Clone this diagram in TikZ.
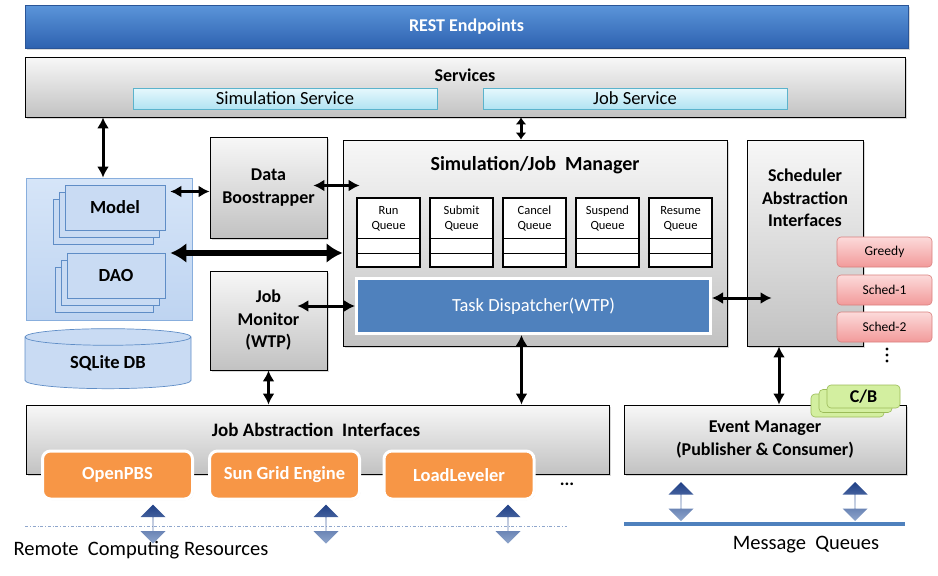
\documentclass[tikz,border=0pt]{standalone}
\usepackage{fontspec}
\setmainfont{Carlito}
\usetikzlibrary{shapes.geometric,shapes.arrows,shadows,arrows.meta,calc}
\definecolor{RestTop}{HTML}{5B95DA}
\definecolor{RestBot}{HTML}{2E62B0}
\definecolor{RestLine}{HTML}{2A5597}
\definecolor{SvcTop}{HTML}{E6F8FD}
\definecolor{SvcBot}{HTML}{B2E3F2}
\definecolor{SvcLine}{HTML}{5BB3CC}
\definecolor{StoreTop}{HTML}{D6E5F8}
\definecolor{StoreBot}{HTML}{BED4F1}
\definecolor{StoreLine}{HTML}{88AEDD}
\definecolor{StackFill}{HTML}{C9DBF3}
\definecolor{StackLine}{HTML}{5F8DC6}
\definecolor{TaskBlue}{HTML}{4F81BD}
\definecolor{PbsOrange}{HTML}{F79646}
\definecolor{SchedTop}{HTML}{FCDADA}
\definecolor{SchedBot}{HTML}{F29A9A}
\definecolor{SchedLine}{HTML}{D9807E}
\definecolor{CbFill}{HTML}{D3EFA0}
\definecolor{CbLine}{HTML}{9BBB59}
\definecolor{FlowDark}{HTML}{1F3F86}
\definecolor{FlowLight}{HTML}{8FA6CC}

\begin{document}
\begin{tikzpicture}[x=1pt,y=-1pt,
  every node/.style={font=\fontsize{18.5}{22}\selectfont},
  title/.style={font=\bfseries\fontsize{18}{22.5}\selectfont, align=center, inner sep=0pt},
  panel/.style={draw=black, line width=0.8pt, top color=gray!6, bottom color=gray!48,
                drop shadow={shadow xshift=1.5pt, shadow yshift=-1.5pt, opacity=0.3}},
  restbar/.style={draw=RestLine, line width=0.6pt, top color=RestTop, bottom color=RestBot,
                  minimum width=883, minimum height=43, text=white,
                  font=\bfseries\fontsize{18}{21}\selectfont,
                  drop shadow={shadow xshift=1.5pt, shadow yshift=-1.5pt, opacity=0.3}},
  svcbar/.style={draw=SvcLine, line width=0.5pt, top color=SvcTop, bottom color=SvcBot,
                 minimum width=304, minimum height=21, inner sep=0pt,
                 font=\fontsize{18.5}{20}\selectfont},
  store/.style={draw=StoreLine, line width=0.8pt, top color=StoreTop, bottom color=StoreBot},
  stackbox/.style={draw=StackLine, line width=0.6pt, fill=StackFill,
                   font=\bfseries\fontsize{18.5}{22}\selectfont,
                   double copy shadow={shadow xshift=-6pt, shadow yshift=-7pt}},
  dbcyl/.style={cylinder, shape border rotate=90, aspect=0.22, draw=StackLine, line width=0.7pt,
                fill=StackFill, minimum width=166, minimum height=60, inner sep=0pt,
                font=\bfseries\fontsize{18.5}{22}\selectfont},
  queuebox/.style={draw=black, line width=2.2pt, fill=white, minimum width=63, minimum height=69},
  qline/.style={line width=0.8pt},
  qtext/.style={align=center, inner sep=0pt, font=\fontsize{12.5}{15}\selectfont},
  taskbox/.style={draw=white, line width=3pt, fill=TaskBlue, text=white,
                  minimum width=354, minimum height=55, font=\fontsize{18.5}{22}\selectfont,
                  drop shadow={shadow xshift=1pt, shadow yshift=-1pt, opacity=0.25}},
  schedbox/.style={draw=SchedLine, line width=0.6pt, rounded corners=4pt,
                   top color=SchedTop, bottom color=SchedBot, minimum width=95, minimum height=30,
                   font=\fontsize{13.5}{16}\selectfont},
  rmbox/.style={draw=white, line width=3pt, rounded corners=8pt, fill=PbsOrange, text=white,
                minimum width=150, minimum height=48, font=\bfseries\fontsize{18.5}{22}\selectfont,
                drop shadow={shadow xshift=1pt, shadow yshift=-1pt, opacity=0.3}},
  cbbox/.style={draw=CbLine, line width=0.6pt, rounded corners=4pt, fill=CbFill,
                minimum width=73, minimum height=23, inner sep=0pt,
                font=\bfseries\fontsize{18}{21}\selectfont,
                double copy shadow={shadow xshift=-8pt, shadow yshift=-4.5pt}},
  flow/.style={double arrow, shape border rotate=90, inner sep=0pt, minimum width=25,
               minimum height=39, double arrow head extend=5.5pt,
               top color=FlowDark, bottom color=FlowLight},
  barr/.style={{Latex[length=11pt,width=12pt]}-{Latex[length=11pt,width=12pt]}, line width=3pt},
  sarr/.style={{Latex[length=7pt,width=11pt]}-{Latex[length=7pt,width=11pt]}, line width=3pt},
  bigarr/.style={{Latex[length=16pt,width=20pt]}-{Latex[length=16pt,width=20pt]}, line width=5.5pt},
  rcline/.style={draw=FlowLight, line width=0.6pt, dash dot},
  mqline/.style={draw=TaskBlue, line width=4pt},
]
  \useasboundingbox (0,0) rectangle (938,576);

  % Top bars
  \node[restbar] (rest) at (466.5,26.5) {REST Endpoints};
  \node[panel, minimum width=880, minimum height=60] (services) at (465,87) {};
  \node[title] (svctitle) at (465,75) {Services};
  \node[svcbar] (simsvc) at (285,98.5) {Simulation Service};
  \node[svcbar] (jobsvc) at (635,98.5) {Job Service};

  % Data store
  \node[store, minimum width=166, minimum height=142] (store) at (109,249) {};
  \node[stackbox, minimum width=100, minimum height=45] (model) at (115,207.5) {Model};
  \node[stackbox, minimum width=98, minimum height=45] (dao) at (116,275.5) {DAO};
  \node[dbcyl] (sqlite) at (108,363) {SQLite DB};

  % Middle boxes
  \node[panel, title, minimum width=117, minimum height=101] (boot) at (268.5,187.5) {Data\\Boostrapper};
  \node[panel, title, minimum width=117, minimum height=99] (monitor) at (268.5,320.5) {Job\\Monitor\\(WTP)};
  \node[panel, minimum width=384, minimum height=206] (manager) at (535,243) {};
  \node[title, font=\bfseries\fontsize{20}{24}\selectfont] (mgrtitle) at (535,165) {Simulation/Job\ \ Manager};
  \foreach \q [count=\i from 0] in {Run,Submit,Cancel,Suspend,Resume}{
    \node[queuebox] (q\i) at (388.5+73*\i,232.5) {};
    \node[qtext] (qt\i) at (388.5+73*\i,218.5) {\q\\Queue};
    \draw[qline] (q\i.west |- 0,238) -- (q\i.east |- 0,238);
    \draw[qline] (q\i.west |- 0,253) -- (q\i.east |- 0,253);
  }
  \node[taskbox] (dispatch) at (533.5,306) {Task Dispatcher(WTP)};

  % Scheduler side
  \node[panel, minimum width=116, minimum height=206] (sched) at (805,243) {};
  \node[title] (schedtitle) at (805,198) {Scheduler\\Abstraction\\Interfaces};
  \node[schedbox] (greedy) at (884.5,252) {Greedy};
  \node[schedbox] (sched1) at (884.5,290) {Sched-1};
  \node[schedbox] (sched2) at (884.5,327) {Sched-2};
  \foreach \y in {349,355,361}
    \fill (887,\y) circle (1.6);

  % Bottom row
  \node[panel, minimum width=583, minimum height=69] (jobabs) at (317.5,439.5) {};
  \node[title, font=\bfseries\fontsize{19}{22}\selectfont] (jobabstitle) at (316,430) {Job Abstraction\ \ Interfaces};
  \node[rmbox] (pbs) at (117.5,475) {OpenPBS};
  \node[rmbox] (sge) at (284.5,475) {Sun Grid Engine};
  \node[rmbox] (ll) at (459,475) {LoadLeveler};
  \node[title] (rmdots) at (567,484) {...};
  \node[panel, title, minimum width=282, minimum height=69] (events) at (765,439.5) {Event Manager\\(Publisher \& Consumer)};
  \node[cbbox] (cb) at (863.5,396.5) {C/B};

  % Resources and queues
  \coordinate (rcwest) at (25,526);
  \coordinate (rceast) at (567,526);
  \draw[rcline] (rcwest) -- (rceast);
  \coordinate (mqwest) at (624,524);
  \coordinate (mqeast) at (905,524);
  \draw[mqline] (mqwest) -- (mqeast);
  \node[flow] (pbsflow) at (153,524) {};
  \node[flow] (sgeflow) at (326,524) {};
  \node[flow] (llflow) at (508,524) {};
  \node[flow] (pubflow) at (681,501.5) {};
  \node[flow] (subflow) at (855,501.5) {};
  \node[inner sep=0pt, font=\fontsize{20.5}{24}\selectfont] (rclabel) at (141,550) {Remote\ \ Computing Resources};
  \node[inner sep=0pt, font=\fontsize{20.5}{24}\selectfont] (mqlabel) at (806,545) {Message\ \ Queues};

  % Black arrows
  \draw[barr] ([xshift=-6pt]store.north) -- ([xshift=-6pt]store.north |- services.south);
  \draw[sarr] ([xshift=-14pt]manager.north) -- ([xshift=-14pt]manager.north |- services.south);
  \draw[barr] ([xshift=5pt,yshift=-4pt]model.east |- boot.west) -- ([yshift=-4pt]boot.west);
  \draw[barr] ([xshift=-14pt,yshift=2pt]boot.east) -- ([xshift=17pt,yshift=2pt]boot.east -| manager.west);
  \draw[bigarr] ([xshift=-22pt,yshift=-4pt]store.east) -- ([yshift=-4pt]store.east -| manager.west);
  \draw[barr] ([xshift=-30pt]dispatch.west -| monitor.east) -- (dispatch.west);
  \draw[barr] (monitor.south) -- (monitor.south |- jobabs.north);
  \draw[barr] ([xshift=-12pt]dispatch.south) -- ([xshift=-12pt]dispatch.south |- jobabs.north);
  \draw[barr] ([yshift=8pt]dispatch.east) -- ([yshift=8pt,xshift=25pt]dispatch.east -| sched.west);
  \draw[barr] ([xshift=-26pt]sched.south) -- ([xshift=-26pt]sched.south |- events.north);
\end{tikzpicture}
\end{document}
